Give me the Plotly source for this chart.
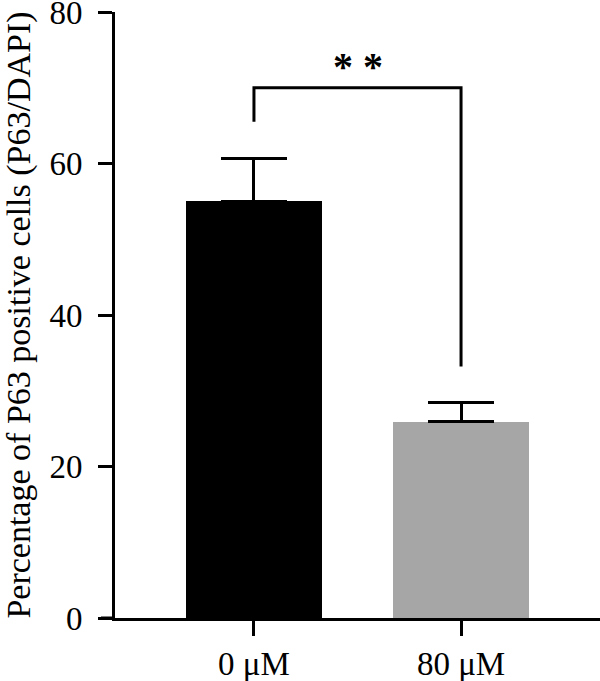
import plotly.graph_objects as go

categories = ["0 μM", "80 μM"]
means = [55.0, 25.9]
errors_up = [5.6, 2.5]
bar_colors = ["#000000", "#A6A6A6"]
y_ticks = [0, 20, 40, 60, 80]
bracket_top = 70.0
bracket_left_bottom = 65.5
bracket_right_bottom = 33.2
sig_label = "* *"

FONT = "'Liberation Serif', 'Times New Roman', serif"

fig = go.Figure()
fig.add_trace(go.Bar(
    x=[0, 1], y=means,
    marker=dict(color=bar_colors, line=dict(width=0)),
    width=0.657,
    error_y=dict(type="data", symmetric=False, array=errors_up,
                 arrayminus=[0, 0], color="black", thickness=3, width=33),
    showlegend=False,
))

# significance bracket
fig.add_shape(type="path", xref="x", yref="y",
              path=f"M 0 {bracket_left_bottom} L 0 {bracket_top} L 1 {bracket_top} L 1 {bracket_right_bottom}",
              line=dict(color="black", width=3))
fig.add_annotation(x=0.5, y=bracket_top, xref="x", yref="y", text=f"<b>{sig_label}</b>",
                   showarrow=False, yshift=21, font=dict(family=FONT, size=40, color="black"))

# x-axis line extension left of y-axis
fig.add_shape(type="line", xref="paper", yref="y", x0=-0.029, x1=0, y0=0, y1=0,
              line=dict(color="black", width=3))

fig.update_layout(
    width=600, height=681,
    margin=dict(l=115, r=0, t=12, b=63),
    plot_bgcolor="white", paper_bgcolor="white",
    font=dict(family=FONT, size=33, color="black"),
    bargap=0,
)
fig.update_xaxes(
    range=[-0.671, 1.671], tickmode="array", tickvals=[0, 1], ticktext=categories,
    showline=True, linecolor="black", linewidth=3, ticks="outside", ticklen=15,
    tickwidth=3, tickcolor="black", showgrid=False, zeroline=False,
    tickfont=dict(family=FONT, size=33), automargin=False, ticklabelstandoff=-1,
)
fig.update_yaxes(
    range=[0, 80], tickmode="array", tickvals=y_ticks,
    showline=True, linecolor="black", linewidth=3, ticks="outside", ticklen=14,
    tickwidth=3, tickcolor="black", showgrid=False, zeroline=False,
    tickfont=dict(family=FONT, size=33), ticklabeloverflow="allow",
    ticklabelstandoff=9, automargin=False,
    title=dict(text="Percentage of P63 positive cells (P63/DAPI)",
               font=dict(family=FONT, size=34), standoff=10),
)

fig.write_html("out.html")
